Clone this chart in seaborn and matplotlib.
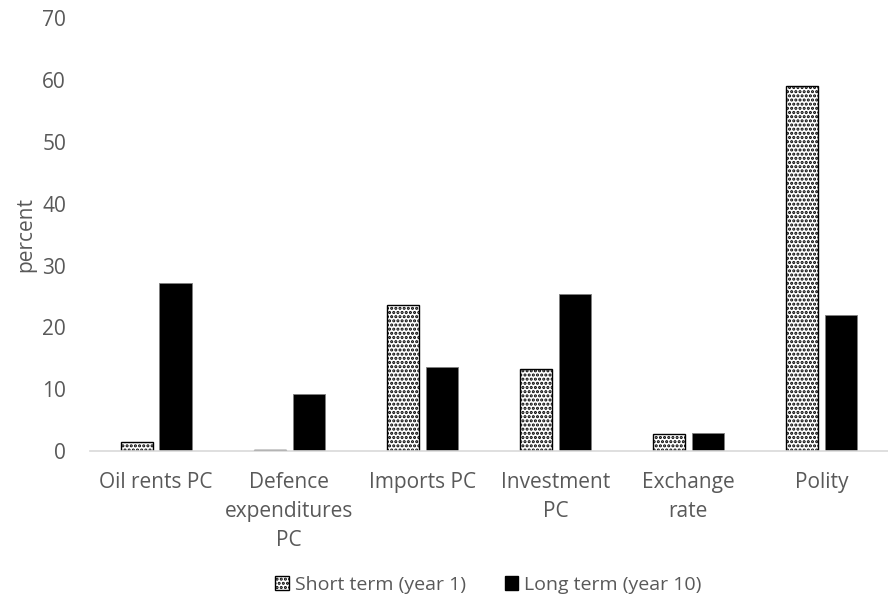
import matplotlib
matplotlib.use("Agg")
import matplotlib.pyplot as plt
import seaborn as sns
import pandas as pd
from matplotlib.patches import Patch

categories = ["Oil rents PC", "Defence\nexpenditures\nPC", "Imports PC",
              "Investment\nPC", "Exchange\nrate", "Polity"]
short_term = [1.4, 0.2, 23.6, 13.3, 2.7, 59.0]
long_term = [27.2, 9.3, 13.6, 25.4, 2.9, 22.0]
series_names = ["Short term (year 1)", "Long term (year 10)"]
y_ticks = [0, 10, 20, 30, 40, 50, 60, 70]

df = pd.DataFrame({
    "category": categories * 2,
    "value": short_term + long_term,
    "series": [series_names[0]] * len(categories) + [series_names[1]] * len(categories),
})

sns.set_theme(style="white")
plt.rcParams["font.family"] = ["Open Sans", "DejaVu Sans"]
plt.rcParams["hatch.linewidth"] = 1.5

text_color = "#595959"
fs = 15
fig = plt.figure(figsize=(8.88, 6.08), dpi=100)
ax = fig.add_axes([0.101, 0.258, 0.899, 0.712])

sns.barplot(data=df, x="category", y="value", hue="series",
            palette=["white", "black"], width=0.58, gap=0.17,
            legend=False, ax=ax, linewidth=0, saturation=1)

n = len(categories)
for i, bar in enumerate(ax.patches[:2 * n]):
    if i < n:
        bar.set_facecolor("white")
        bar.set_edgecolor("black")
        bar.set_hatch("....")
        bar.set_linewidth(1.0)
    else:
        bar.set_facecolor("black")
        bar.set_edgecolor("#7f7f7f")
        bar.set_linewidth(0.6)

ax.set_xlim(-0.5, n - 0.5)
ax.set_ylim(0, 70)
ax.set_yticks(y_ticks)
ax.set_yticklabels([str(t) for t in y_ticks])
ax.set_xlabel("")
ax.set_ylabel("percent", fontsize=fs, color=text_color, labelpad=4)

for side in ["left", "right", "top"]:
    ax.spines[side].set_visible(False)
ax.spines["bottom"].set_color("#d9d9d9")
ax.spines["bottom"].set_linewidth(1.2)

ax.tick_params(axis="both", length=0, colors=text_color, labelsize=fs)
ax.tick_params(axis="y", pad=17)
ax.tick_params(axis="x", pad=15)
for lbl in ax.get_xticklabels():
    lbl.set_linespacing(1.5)

handles = [
    Patch(facecolor="white", edgecolor="black", hatch="....", linewidth=1.0),
    Patch(facecolor="black", edgecolor="black"),
]
fig.legend(handles, series_names, loc="center", bbox_to_anchor=(0.55, 0.038),
           ncol=2, frameon=False, fontsize=14, handlelength=0.7, handleheight=0.7,
           handletextpad=0.3, columnspacing=2.0, labelcolor=text_color)

fig.savefig("out.png", dpi=100)
